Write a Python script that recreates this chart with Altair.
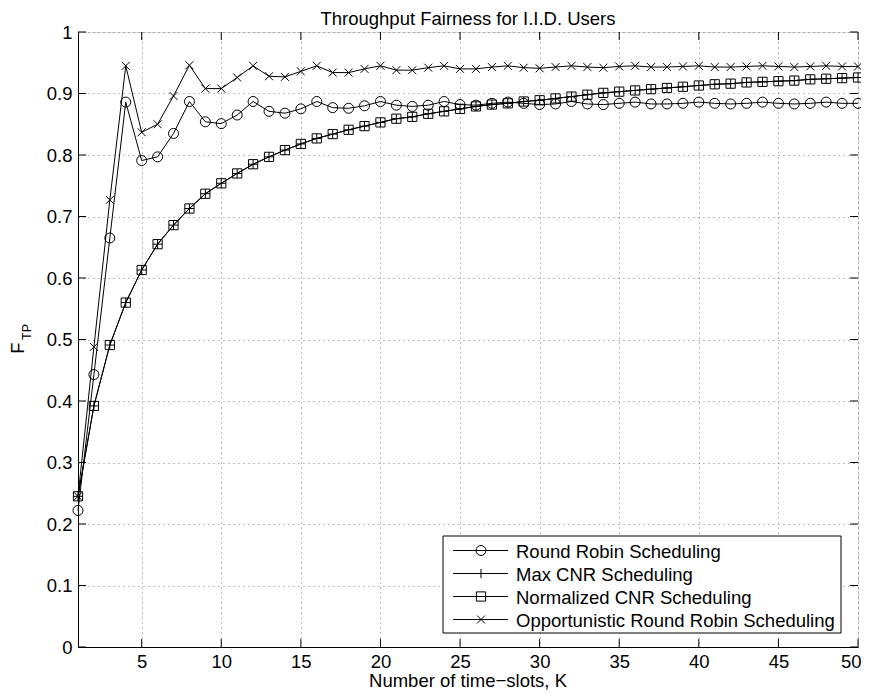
import altair as alt
import pandas as pd

K = list(range(1, 51))

round_robin = [0.222, 0.443, 0.665, 0.886, 0.791, 0.797, 0.835, 0.887, 0.854, 0.851,
               0.865, 0.887, 0.871, 0.868, 0.875, 0.887, 0.877, 0.876, 0.880, 0.887,
               0.881, 0.879, 0.881, 0.887, 0.882, 0.881, 0.884, 0.886, 0.884, 0.882,
               0.883, 0.887, 0.883, 0.882, 0.884, 0.886, 0.883, 0.883, 0.884, 0.886,
               0.884, 0.883, 0.884, 0.886, 0.884, 0.883, 0.884, 0.886, 0.884, 0.884]

max_cnr = [0.245, 0.392, 0.491, 0.560, 0.613, 0.655, 0.686, 0.713, 0.737, 0.754,
           0.770, 0.785, 0.797, 0.808, 0.818, 0.827, 0.834, 0.841, 0.847, 0.853,
           0.859, 0.862, 0.867, 0.871, 0.875, 0.879, 0.882, 0.884, 0.887, 0.889,
           0.892, 0.895, 0.898, 0.901, 0.903, 0.905, 0.907, 0.909, 0.911, 0.913,
           0.915, 0.916, 0.918, 0.919, 0.920, 0.921, 0.923, 0.924, 0.925, 0.926]

normalized_cnr = [0.245, 0.392, 0.491, 0.560, 0.613, 0.655, 0.686, 0.713, 0.737, 0.754,
                  0.770, 0.785, 0.797, 0.808, 0.818, 0.827, 0.834, 0.841, 0.847, 0.853,
                  0.859, 0.862, 0.867, 0.871, 0.875, 0.879, 0.882, 0.884, 0.887, 0.889,
                  0.892, 0.895, 0.898, 0.901, 0.903, 0.905, 0.907, 0.909, 0.911, 0.913,
                  0.915, 0.916, 0.918, 0.919, 0.920, 0.921, 0.923, 0.924, 0.925, 0.926]

opportunistic_rr = [0.245, 0.488, 0.727, 0.945, 0.837, 0.850, 0.896, 0.946, 0.908, 0.908,
                    0.926, 0.945, 0.928, 0.927, 0.936, 0.945, 0.934, 0.934, 0.940, 0.945,
                    0.938, 0.938, 0.942, 0.945, 0.940, 0.940, 0.943, 0.945, 0.942, 0.941,
                    0.943, 0.945, 0.943, 0.942, 0.944, 0.945, 0.943, 0.943, 0.944, 0.945,
                    0.943, 0.943, 0.944, 0.945, 0.944, 0.943, 0.944, 0.945, 0.944, 0.944]

series_names = ["Round Robin Scheduling", "Max CNR Scheduling",
                "Normalized CNR Scheduling", "Opportunistic Round Robin Scheduling"]
series_values = [round_robin, max_cnr, normalized_cnr, opportunistic_rr]

x_ticks = [5, 10, 15, 20, 25, 30, 35, 40, 45, 50]
y_ticks = [0, 0.1, 0.2, 0.3, 0.4, 0.5, 0.6, 0.7, 0.8, 0.9, 1.0]

title_text = "Throughput Fairness for I.I.D. Users"
x_title = "Number of time\u2212slots, K"

# ---- styling / layout ----
W, H = 780, 615
FONT = "Liberation Sans"
FS = 18.5
TICK = 8
PLUS = "M-1,0H1M0,-1V1"
CROSS = "M-1,-1L1,1M-1,1L1,-1"
marker_shape = ["circle", PLUS, "square", CROSS]
marker_size = [100, 85, 85, 64]

rows = []
for name, vals in zip(series_names, series_values):
    for k, v in zip(K, vals):
        rows.append({"K": k, "F": v, "series": name})
df = pd.DataFrame(rows)

xscale = alt.Scale(domain=[1, 50], nice=False, zero=False)
yscale = alt.Scale(domain=[0, 1], nice=False, zero=False)

xenc = alt.X("K:Q", scale=xscale,
             axis=alt.Axis(values=x_ticks, title=None, grid=True, gridDash=[1, 4],
                           gridColor="#000", gridOpacity=0.5, tickSize=0,
                           labelPadding=5, labelFontSize=FS, labelFont=FONT,
                           labelColor="#000", domainColor="#000",
                           labelFlush=True, labelFlushOffset=3))
yenc = alt.Y("F:Q", scale=yscale,
             axis=alt.Axis(values=y_ticks, title=None, format=".1~f", grid=True,
                           gridDash=[1, 4], gridColor="#000", gridOpacity=0.5,
                           tickSize=0, labelPadding=6, labelFontSize=FS,
                           labelFont=FONT, labelColor="#000", domainColor="#000",
                           labelFlush=False))

base = alt.Chart(df)
lines = base.mark_line(color="black", strokeWidth=1).encode(
    x=xenc, y=yenc, detail="series:N", order="K:Q")

layers = [lines]
for name, shp, sz in zip(series_names, marker_shape, marker_size):
    layers.append(
        base.transform_filter(alt.datum.series == name)
        .mark_point(filled=False, color="black", strokeWidth=1, shape=shp, size=sz, opacity=1)
        .encode(x="K:Q", y="F:Q"))

# inward ticks on all four sides
xt = pd.DataFrame({"K": x_ticks})
yt = pd.DataFrame({"F": y_ticks})
tick_style = dict(color="black", strokeWidth=1)
layers.append(alt.Chart(xt).mark_rule(**tick_style).encode(
    x="K:Q", y=alt.value(H), y2=alt.value(H - TICK)))
layers.append(alt.Chart(xt).mark_rule(**tick_style).encode(
    x="K:Q", y=alt.value(0), y2=alt.value(TICK)))
layers.append(alt.Chart(yt).mark_rule(**tick_style).encode(
    y="F:Q", x=alt.value(0), x2=alt.value(TICK)))
layers.append(alt.Chart(yt).mark_rule(**tick_style).encode(
    y="F:Q", x=alt.value(W - TICK), x2=alt.value(W)))

def text_layer(txt, x, y, size=FS, angle=0, align="center", baseline="alphabetic"):
    kw = dict(align=align, baseline=baseline, font=FONT, fontSize=size, color="black")
    if angle:
        kw["angle"] = angle
    return alt.Chart(pd.DataFrame({"t": [txt]})).mark_text(**kw).encode(
        text="t:N", x=alt.value(x), y=alt.value(y))

# title, x-axis title, y-axis title F_TP
layers.append(text_layer(title_text, W / 2, -7))
layers.append(text_layer(x_title, W / 2, H + 40))
layers.append(text_layer("F", -54, 316, angle=270))
layers.append(text_layer("TP", -47, 300, size=12.5, angle=270))

# legend (box, line samples, markers, labels)
LX0, LX1, LY0, LY1 = 365, 763, 504, 601
ROW0, ROWH = 518.5, 23
line_x0, line_x1, mark_x, text_x = 375, 430, 403, 438
layers.append(alt.Chart(pd.DataFrame({"a": [0]})).mark_rect(
    fill="white", stroke="black", strokeWidth=1).encode(
    x=alt.value(LX0), x2=alt.value(LX1), y=alt.value(LY0), y2=alt.value(LY1)))
for i, (name, shp, sz) in enumerate(zip(series_names, marker_shape, marker_size)):
    ry = ROW0 + i * ROWH
    one = pd.DataFrame({"name": [name]})
    layers.append(alt.Chart(one).mark_rule(color="black", strokeWidth=1).encode(
        x=alt.value(line_x0), x2=alt.value(line_x1), y=alt.value(ry)))
    layers.append(alt.Chart(one).mark_point(
        filled=False, color="black", strokeWidth=1, shape=shp, size=sz, opacity=1).encode(
        x=alt.value(mark_x), y=alt.value(ry)))
    layers.append(text_layer(name, text_x, ry + 1, align="left", baseline="middle"))

chart = alt.layer(*layers).properties(
    width=W, height=H,
    autosize=alt.AutoSizeParams(type="none"),
    padding={"left": 70, "top": 24, "right": 3, "bottom": 44},
).configure_view(stroke="black", strokeWidth=1).configure(background="white")

chart.save("out.html", embed_options={"renderer": "svg", "actions": False})
